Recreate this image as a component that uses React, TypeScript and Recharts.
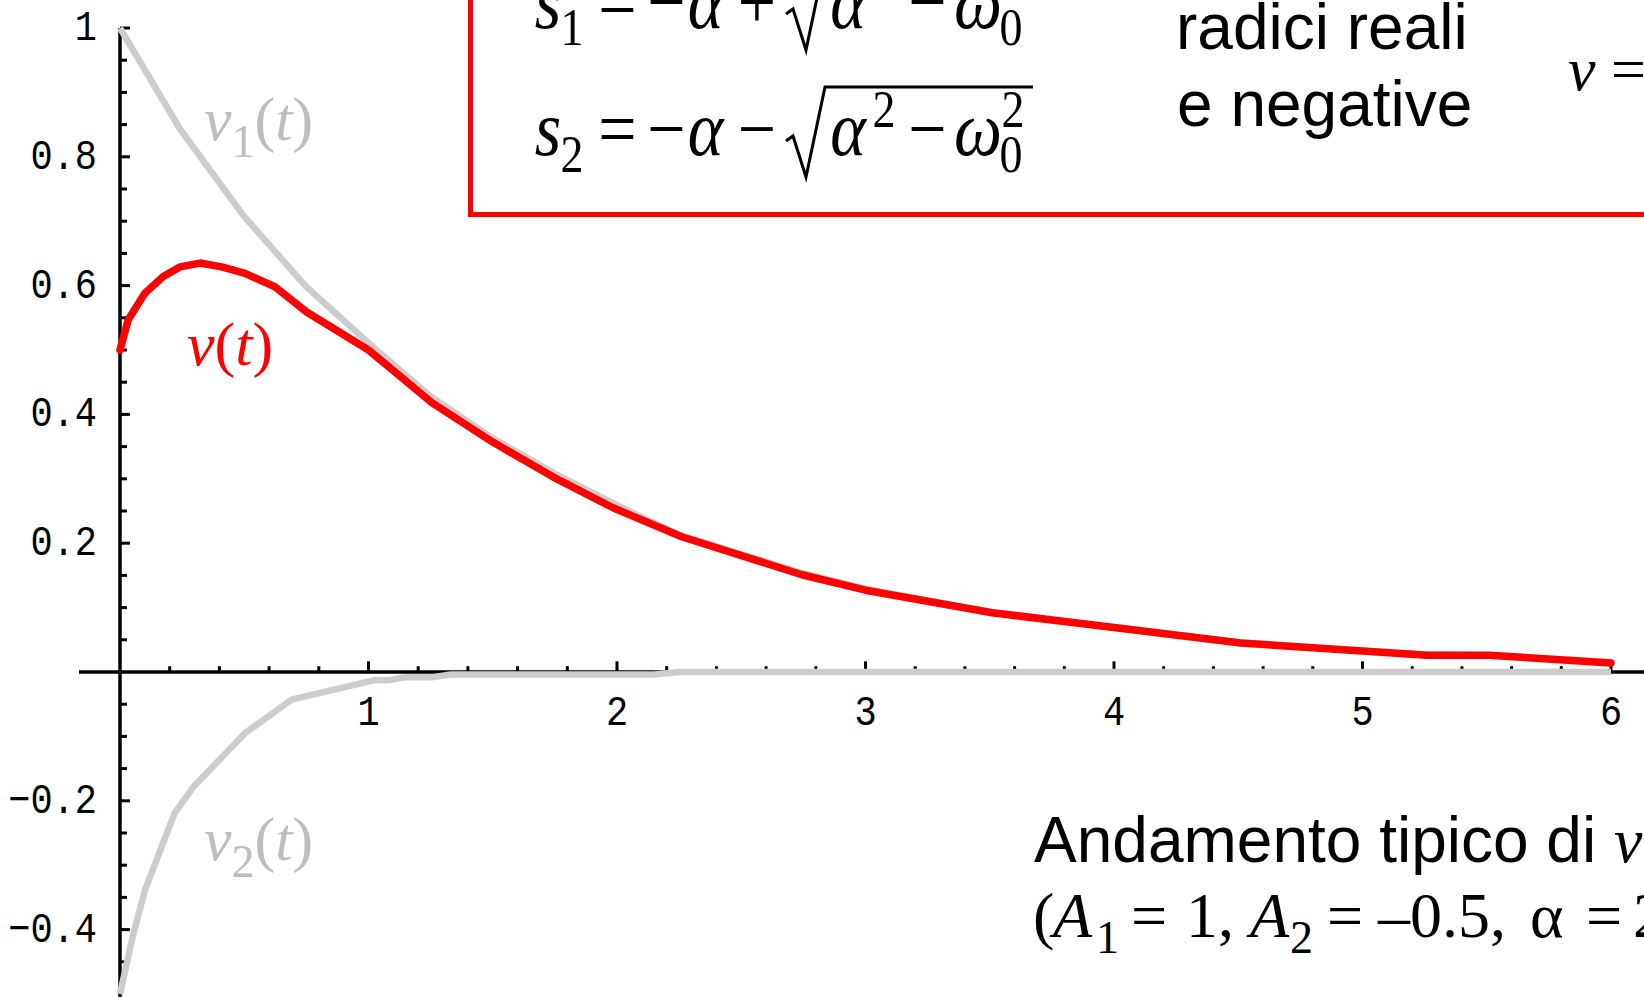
import React from 'react';
import { LineChart, Line, XAxis, YAxis, ReferenceLine, ReferenceDot } from 'recharts';

// ---- data ----
const v1Times = [0, 0.24, 0.5, 0.75, 1.0, 1.25, 1.5, 1.75, 2.0, 2.25, 2.75, 3.0, 3.5, 4.0, 4.5, 5.25, 5.5, 6.0];
const v1Values = [1.0, 0.844, 0.707, 0.598, 0.511, 0.428, 0.363, 0.308, 0.259, 0.213, 0.153, 0.129, 0.093, 0.069, 0.046, 0.027, 0.026, 0.015];

const vTimes = [0, 0.033, 0.1, 0.174, 0.241, 0.322, 0.409, 0.503, 0.624, 0.751, 1.0, 1.256, 1.5, 1.742, 1.984, 2.26, 2.744, 3.0, 3.51, 4.0, 4.51, 5.26, 5.51, 6.0];
const vValues = [0.5, 0.547, 0.588, 0.614, 0.629, 0.635, 0.629, 0.619, 0.598, 0.559, 0.5, 0.418, 0.357, 0.303, 0.255, 0.21, 0.151, 0.127, 0.092, 0.069, 0.045, 0.026, 0.026, 0.014];

const v2Times = [0, 0.048, 0.1, 0.22, 0.294, 0.503, 0.69, 1.02, 1.08, 1.147, 1.26, 1.33, 2.15, 2.25, 6.0];
const v2Values = [-0.5, -0.416, -0.339, -0.219, -0.179, -0.095, -0.043, -0.013, -0.013, -0.008, -0.008, -0.004, -0.004, 0, 0];

const xTickLabels = [1, 2, 3, 4, 5, 6];
const xMinorTicks = [0.2, 0.4, 0.6, 0.8, 1.2, 1.4, 1.6, 1.8, 2.2, 2.4, 2.6, 2.8, 3.2, 3.4, 3.6, 3.8, 4.2, 4.4, 4.6, 4.8, 5.2, 5.4, 5.6, 5.8];
const yTickLabels = [-0.4, -0.2, 0.2, 0.4, 0.6, 0.8, 1];
const yMinorTicks = [-0.45, -0.35, -0.3, -0.25, -0.15, -0.1, -0.05, 0.05, 0.1, 0.15, 0.25, 0.3, 0.35, 0.45, 0.5, 0.55, 0.65, 0.7, 0.75, 0.85, 0.9, 0.95];

const v1Data = v1Times.map((t, i) => ({ t, v: v1Values[i] }));
const vData = vTimes.map((t, i) => ({ t, v: vValues[i] }));
const v2Data = v2Times.map((t, i) => ({ t, v: v2Values[i] }));

// ---- layout / style constants ----
const W = 1644;
const H = 997;
const X_DOMAIN: [number, number] = [-0.4829, 6.1328];
const Y_DOMAIN: [number, number] = [-0.50466, 1.04348];
const X_AXIS_START = -0.165;
const Y_AXIS_TOP = 1;
const Y_TICK_MAJOR = 0.04;
const Y_TICK_MINOR = 0.028;
const X_TICK_MAJOR = 0.0165;
const X_TICK_MINOR = 0.009;
const TICK_FONT = 37;
const TICK_SY = 1.15;

const serif = "'Liberation Serif', 'Times New Roman', serif";
const sans = "'Liberation Sans', Arial, sans-serif";
const mono = "'Liberation Mono', 'Courier New', monospace";

const fmtY = (v: number) => (v < 0 ? '\u2212' + String(Math.abs(v)) : String(v));

const yLabelRenderer = (text: string) => (props: any) => {
  const vb = props.viewBox || {};
  const x = (vb.x ?? 0) - 23;
  const y = (vb.y ?? 0) + 12;
  return (
    <text transform={`translate(${x},${y}) scale(1,${TICK_SY})`} textAnchor="end" fontFamily={mono} fontSize={TICK_FONT} fill="#000">
      {text}
    </text>
  );
};
const xLabelRenderer = (text: string) => (props: any) => {
  const vb = props.viewBox || {};
  const x = vb.x ?? 0;
  const y = (vb.y ?? 0) + 53;
  return (
    <text transform={`translate(${x},${y}) scale(1,${TICK_SY})`} textAnchor="middle" fontFamily={mono} fontSize={TICK_FONT} fill="#000">
      {text}
    </text>
  );
};

type GProps = {
  x: number;
  y: number;
  size: number;
  italic?: boolean;
  anchor?: 'start' | 'middle' | 'end';
  sy?: number;
  fill?: string;
  family?: string;
  children: React.ReactNode;
};
const G = ({ x, y, size, italic, anchor = 'middle', sy = 1, fill = '#000', family = serif, children }: GProps) => (
  <text
    transform={`translate(${x},${y}) scale(1,${sy})`}
    fontFamily={family}
    fontSize={size}
    fontStyle={italic ? 'italic' : 'normal'}
    textAnchor={anchor}
    fill={fill}
  >
    {children}
  </text>
);

const EQ = 68;
const EQS = 46;
const SY = 1.15;

const EquationLine = ({ base, top, sign }: { base: number; top: number; sign: string }) => (
  <g>
    <G x={548} y={base} size={EQ} italic sy={SY}>s</G>
    <G x={572} y={base + 17} size={EQS} sy={SY}>{top === 1 ? '1' : '2'}</G>
    <G x={617.5} y={base} size={EQ} sy={SY}>=</G>
    <G x={666.5} y={base} size={EQ} sy={SY}>{'\u2212'}</G>
    <G x={705.5} y={base} size={EQ} italic sy={SY}>{'\u03b1'}</G>
    <G x={757} y={base} size={EQ} sy={SY}>{sign}</G>
    <path
      d={`M 786 ${base - 14} L 793 ${base - 19} L 806 ${base + 22} L 825 ${base - 68} L 1033 ${base - 68}`}
      fill="none"
      stroke="#000"
      strokeWidth={3}
      strokeLinejoin="miter"
    />
    <G x={848} y={base} size={EQ} italic sy={SY}>{'\u03b1'}</G>
    <G x={884} y={base - 28} size={EQS} sy={SY}>2</G>
    <G x={927.5} y={base} size={EQ} sy={SY}>{'\u2212'}</G>
    <G x={978} y={base} size={EQ} italic sy={SY}>{'\u03c9'}</G>
    <G x={1013} y={base - 28} size={EQS} sy={SY}>2</G>
    <G x={1011} y={base + 17} size={EQS} sy={SY}>0</G>
  </g>
);

const CurveLabel = ({ x, y, sub, color }: { x: number; y: number; sub?: string; color: string }) => (
  <text x={x} y={y} fontFamily={serif} fontSize={62} fill={color}>
    <tspan fontStyle="italic">v</tspan>
    {sub ? (
      <tspan fontSize={46} dy={17}>{sub}</tspan>
    ) : null}
    <tspan dy={sub ? -17 : 0}>(</tspan>
    <tspan fontStyle="italic">t</tspan>
    <tspan>)</tspan>
  </text>
);

const Overlay = () => (
  <svg width={W} height={H} style={{ position: 'absolute', left: 0, top: 0, pointerEvents: 'none' }}>
    {/* red framed box */}
    <rect x={470.5} y={-20} width={1400} height={234.5} fill="none" stroke="#ff0000" strokeWidth={5} />
    <EquationLine base={28} top={1} sign="+" />
    <EquationLine base={155} top={2} sign={'\u2212'} />
    <text x={1176} y={49} fontFamily={sans} fontSize={64} fill="#000">radici reali</text>
    <text x={1177} y={126} fontFamily={sans} fontSize={64} fill="#000">e negative</text>
    <text x={1568} y={90} fontFamily={serif} fontSize={62} fill="#000">
      <tspan fontStyle="italic">v</tspan>
      <tspan> =</tspan>
    </text>

    {/* caption */}
    <text x={1034} y={862} fill="#000">
      <tspan fontFamily={sans} fontSize={64}>Andamento tipico di </tspan>
      <tspan fontFamily={serif} fontSize={64} fontStyle="italic">v</tspan>
    </text>
    <g fontFamily={serif} fontSize={64} fill="#000">
      <text x={1033} y={937}>(</text>
      <text x={1053} y={937} fontStyle="italic">A</text>
      <text x={1096} y={953} fontSize={46}>1</text>
      <text x={1131} y={937}>=</text>
      <text x={1186} y={937}>1,</text>
      <text x={1250} y={937} fontStyle="italic">A</text>
      <text x={1290} y={953} fontSize={46}>2</text>
      <text x={1327} y={937}>=</text>
      <text x={1378} y={937}>{'\u2013'}0.5,</text>
      <text x={1530} y={937}>{'\u03b1'}</text>
      <text x={1586} y={937}>=</text>
      <text x={1633} y={937}>2</text>
    </g>

    {/* curve labels */}
    <CurveLabel x={204} y={140} sub="1" color="#bdbdbd" />
    <CurveLabel x={187} y={365} color="#ff0000" />
    <CurveLabel x={204} y={860} sub="2" color="#bdbdbd" />
  </svg>
);

const axisStroke = { stroke: '#000', strokeWidth: 3.5, ifOverflow: 'visible' as const };
const tickStroke = { stroke: '#000', strokeWidth: 3, ifOverflow: 'visible' as const };

export default function App() {
  return (
    <div style={{ position: 'absolute', left: 0, top: 0, width: W, height: H, overflow: 'hidden', background: '#fff' }}>
      <LineChart width={W} height={H} margin={{ top: 0, right: 0, bottom: 0, left: 0 }}>
        <XAxis type="number" dataKey="t" domain={X_DOMAIN} hide allowDataOverflow />
        <YAxis type="number" dataKey="v" domain={Y_DOMAIN} hide allowDataOverflow />

        {/* axes */}
        <ReferenceLine segment={[{ x: X_AXIS_START, y: 0 }, { x: X_DOMAIN[1], y: 0 }]} {...axisStroke} zIndex={-10} />
        <ReferenceLine segment={[{ x: 0, y: Y_AXIS_TOP }, { x: 0, y: Y_DOMAIN[0] }]} {...axisStroke} zIndex={-10} />

        {/* y ticks */}
        {yTickLabels.map((v) => (
          <ReferenceLine key={'ym' + v} segment={[{ x: 0, y: v }, { x: Y_TICK_MAJOR, y: v }]} {...tickStroke} zIndex={-10} />
        ))}
        {yMinorTicks.map((v) => (
          <ReferenceLine key={'yn' + v} segment={[{ x: 0, y: v }, { x: Y_TICK_MINOR, y: v }]} {...tickStroke} zIndex={-10} />
        ))}
        {/* x ticks */}
        {xTickLabels.map((t) => (
          <ReferenceLine key={'xm' + t} segment={[{ x: t, y: 0 }, { x: t, y: X_TICK_MAJOR }]} {...tickStroke} zIndex={-10} />
        ))}
        {xMinorTicks.map((t) => (
          <ReferenceLine key={'xn' + t} segment={[{ x: t, y: 0 }, { x: t, y: X_TICK_MINOR }]} {...tickStroke} zIndex={-10} />
        ))}

        {/* series */}
        <Line data={v1Data} dataKey="v" type="linear" stroke="#cccccc" strokeWidth={6.5} dot={false} activeDot={false} isAnimationActive={false} strokeLinejoin="round" />
        <Line data={v2Data} dataKey="v" type="linear" stroke="#cccccc" strokeWidth={6.5} dot={false} activeDot={false} isAnimationActive={false} strokeLinejoin="round" />
        <Line data={vData} dataKey="v" type="linear" stroke="#ff0000" strokeWidth={7.5} dot={false} activeDot={false} isAnimationActive={false} strokeLinejoin="round" strokeLinecap="round" />

        {/* tick labels */}
        {yTickLabels.map((v) => (
          <ReferenceDot key={'yl' + v} x={0} y={v} r={0} fill="none" stroke="none" ifOverflow="visible" label={yLabelRenderer(fmtY(v))} />
        ))}
        {xTickLabels.map((t) => (
          <ReferenceDot key={'xl' + t} x={t} y={0} r={0} fill="none" stroke="none" ifOverflow="visible" label={xLabelRenderer(String(t))} />
        ))}
      </LineChart>
      <Overlay />
    </div>
  );
}
